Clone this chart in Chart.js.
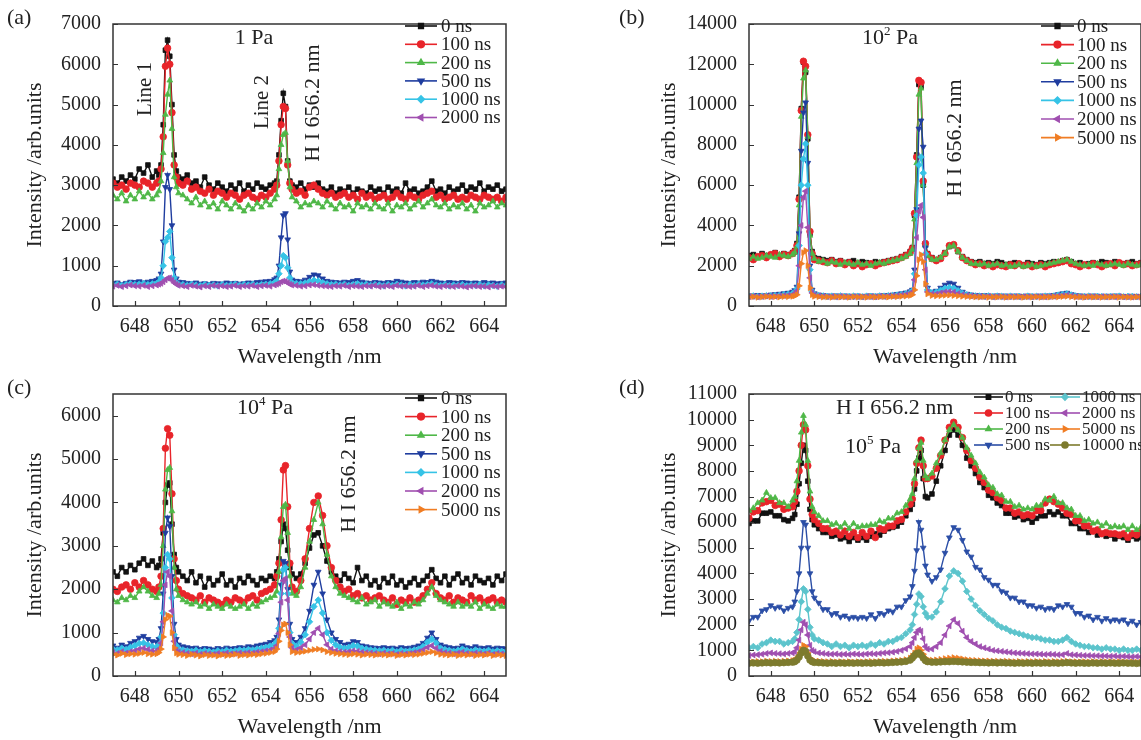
<!DOCTYPE html>
<html>
<head>
<meta charset="utf-8">
<title>Time-resolved emission spectra</title>
<script src="https://cdn.jsdelivr.net/npm/chart.js@4.4.1/dist/chart.umd.min.js"></script>
<style>
  html, body { margin: 0; padding: 0; background: #fff; overflow: hidden; width: 1141px; height: 740px; }
  body { position: relative; }
  canvas { position: absolute; }
</style>
</head>
<body>
<canvas id="panelA" width="570" height="370" style="left:0;top:0"></canvas>
<canvas id="panelB" width="580" height="370" style="left:570px;top:0"></canvas>
<canvas id="panelC" width="570" height="370" style="left:0;top:370px"></canvas>
<canvas id="panelD" width="580" height="370" style="left:570px;top:370px"></canvas>
<script>
// Sampled wavelengths (nm), finer around the emission lines
const wavelength = [
  647.0, 647.2, 647.4, 647.6, 647.8, 648.0, 648.2, 648.4, 648.6, 648.8, 649.0,
  649.1, 649.2, 649.3, 649.4, 649.5, 649.6, 649.7, 649.8, 649.9, 650.0,
  650.2, 650.4, 650.6, 650.8, 651.0, 651.2, 651.4, 651.6, 651.8, 652.0, 652.2, 652.4, 652.6, 652.8, 653.0, 653.2, 653.4, 653.6, 653.8, 654.0, 654.2, 654.4,
  654.5, 654.6, 654.7, 654.8, 654.9, 655.0, 655.1, 655.2,
  655.4, 655.6, 655.8, 656.0, 656.2, 656.4, 656.6, 656.8, 657.0, 657.2,
  657.4, 657.6, 657.8, 658.0, 658.2, 658.4, 658.6, 658.8, 659.0, 659.2,
  659.4, 659.6, 659.8, 660.0, 660.2, 660.4, 660.6, 660.8, 661.0, 661.2,
  661.4, 661.6, 661.8, 662.0, 662.2, 662.4, 662.6, 662.8, 663.0, 663.2,
  663.4, 663.6, 663.8, 664.0, 664.2, 664.4, 664.6, 664.8, 665.0
];

// Axis ticks
const wavelengthTicks = [648, 650, 652, 654, 656, 658, 660, 662, 664];
const intensityTicksA = [0, 1000, 2000, 3000, 4000, 5000, 6000, 7000];
const intensityTicksB = [0, 2000, 4000, 6000, 8000, 10000, 12000, 14000];
const intensityTicksC = [0, 1000, 2000, 3000, 4000, 5000, 6000];
const intensityTicksD = [0, 1000, 2000, 3000, 4000, 5000, 6000, 7000, 8000, 9000, 10000, 11000];

// ---------- (a) 1 Pa ----------
const delaysA = ['0 ns', '100 ns', '200 ns', '500 ns', '1000 ns', '2000 ns'];
const a_0ns = [
  3150, 3050, 3200, 3100, 3250, 3150, 3400, 3300, 3500, 3200, 3350,
  3250, 3500, 4500, 6350, 6600, 6200, 5000, 3750, 3350, 3200,
  3150, 3250, 3050, 3100, 2950, 3200, 3000, 2900, 3050, 2950, 2850, 3000, 2900, 3050, 2850, 3000, 2900, 3050, 2950, 2900, 3000, 3050,
  3100, 3750, 4600, 5280, 4950, 3600, 3100, 3000,
  2950, 3050, 2900, 3000, 2950, 3050, 2900, 2850, 2950, 2800,
  2900, 2850, 2950, 2800, 2900, 2850, 2800, 2950, 2850, 2900,
  2800, 2950, 2850, 2900, 2800, 3050, 2850, 2900, 2800, 2850,
  2950, 3100, 2850, 2900, 2800, 2950, 2850, 2900, 3000, 2850,
  2950, 2900, 3050, 2850, 2950, 2900, 3000, 2850, 2900
];
const a_100ns = [
  3050, 2950, 3000, 2900, 3050, 3000, 2950, 3100, 3050, 2950, 3050,
  3100, 3400, 4200, 5950, 6400, 6000, 4800, 3500, 3200, 3050,
  3000, 3100, 2900, 2950, 2850, 2800, 2900, 2750, 2850, 2800, 2700, 2800, 2750, 2650, 2750, 2800, 2700, 2650, 2750, 2700, 2800, 2900,
  3000, 3600, 4500, 4950, 4900, 3500, 3050, 2900,
  2800, 2850, 2750, 2950, 3000, 2900, 2800, 2750, 2800, 2700,
  2750, 2800, 2700, 2750, 2650, 2800, 2700, 2750, 2650, 2700,
  2750, 2650, 2700, 2800, 2700, 2650, 2750, 2700, 2650, 2750,
  2800, 2850, 2700, 2750, 2650, 2700, 2750, 2650, 2700, 2650,
  2750, 2700, 2650, 2750, 2700, 2650, 2700, 2600, 2700
];
const a_200ns = [
  2750, 2650, 2800, 2600, 2750, 2650, 2850, 2700, 2800, 2650, 2750,
  2850, 3100, 3800, 4750, 5250, 5600, 4400, 3200, 2950, 2800,
  2750, 2650, 2550, 2700, 2500, 2600, 2450, 2550, 2400, 2600, 2500, 2400, 2550, 2450, 2350, 2500, 2400, 2550, 2450, 2600, 2500, 2650,
  2750, 3400, 4000, 4250, 4300, 3600, 2950, 2700,
  2600, 2450, 2550, 2500, 2600, 2550, 2450, 2600, 2500, 2400,
  2550, 2450, 2500, 2350, 2550, 2450, 2500, 2400, 2550, 2450,
  2400, 2550, 2350, 2500, 2450, 2550, 2400, 2500, 2600, 2450,
  2550, 2650, 2500, 2450, 2550, 2400, 2500, 2450, 2550, 2400,
  2500, 2350, 2550, 2450, 2500, 2600, 2450, 2550, 2500
];
const a_500ns = [
  560, 580, 540, 570, 600, 590, 610, 580, 600, 620, 640,
  680, 800, 1600, 2950, 3250, 2900, 2000, 900, 680, 600,
  590, 570, 560, 580, 550, 560, 540, 570, 560, 550, 580, 560, 570, 550, 560, 580, 570, 590, 600, 610, 620, 660,
  700, 1000, 1700, 2250, 2300, 1650, 850, 650,
  620, 610, 650, 720, 780, 760, 680, 620, 600, 590,
  580, 600, 590, 620, 640, 600, 580, 570, 590, 580,
  570, 590, 580, 620, 600, 580, 570, 590, 580, 600,
  590, 620, 600, 580, 570, 590, 580, 570, 590, 580,
  570, 580, 560, 590, 570, 580, 560, 570, 580
];
const a_1000ns = [
  520, 540, 510, 530, 550, 530, 540, 560, 530, 550, 560,
  600, 700, 1000, 1600, 1700, 1850, 1200, 700, 580, 540,
  530, 510, 540, 520, 500, 530, 510, 520, 500, 530, 510, 520, 540, 510, 530, 520, 540, 510, 530, 540, 550, 580,
  620, 800, 1000, 1250, 1200, 950, 700, 580,
  560, 550, 570, 600, 640, 620, 580, 550, 530, 540,
  520, 540, 510, 530, 550, 520, 540, 510, 530, 520,
  500, 530, 510, 540, 520, 500, 530, 510, 540, 520,
  530, 550, 520, 510, 530, 500, 520, 510, 530, 500,
  520, 510, 530, 500, 520, 510, 490, 520, 500
];
const a_2000ns = [
  490, 510, 480, 500, 520, 500, 490, 510, 480, 500, 520,
  540, 560, 600, 650, 690, 700, 640, 580, 540, 510,
  500, 480, 510, 490, 470, 500, 480, 510, 490, 500, 480, 490, 510, 480, 500, 490, 510, 480, 500, 510, 490, 520,
  540, 560, 600, 620, 610, 580, 540, 520,
  510, 490, 500, 520, 530, 510, 500, 490, 480, 500,
  490, 510, 480, 500, 490, 480, 500, 490, 510, 480,
  490, 500, 480, 510, 490, 500, 480, 490, 510, 480,
  500, 510, 490, 480, 500, 490, 480, 500, 490, 470,
  490, 500, 480, 490, 470, 500, 480, 490, 480
];

// ---------- (b) 10^2 Pa ----------
const delaysB = ['0 ns', '100 ns', '200 ns', '500 ns', '1000 ns', '2000 ns', '5000 ns'];
const b_0ns = [
  2500, 2550, 2450, 2600, 2500, 2550, 2650, 2500, 2600, 2550, 2650,
  2750, 3100, 5400, 9800, 12100, 11600, 8300, 3600, 2700, 2400,
  2350, 2300, 2250, 2300, 2200, 2250, 2150, 2200, 2250, 2100, 2200, 2150, 2100, 2200, 2150, 2200, 2250, 2300, 2350, 2450, 2550, 2700,
  2900, 4500, 7500, 11000, 10900, 6000, 3100, 2600,
  2400, 2300, 2400, 2650, 2950, 3000, 2700, 2450, 2300, 2200,
  2150, 2200, 2100, 2150, 2100, 2200, 2150, 2050, 2100, 2150,
  2100, 2050, 2150, 2100, 2050, 2150, 2100, 2150, 2200, 2150,
  2250, 2300, 2200, 2100, 2150, 2050, 2100, 2150, 2100, 2200,
  2150, 2100, 2200, 2150, 2100, 2150, 2200, 2100, 2150
];
const b_100ns = [
  2400, 2300, 2450, 2500, 2400, 2550, 2600, 2450, 2550, 2500, 2600,
  2700, 3000, 5300, 9700, 12150, 11900, 8500, 3700, 2600, 2300,
  2250, 2200, 2150, 2250, 2100, 2200, 2050, 2150, 2000, 2100, 1950, 2050, 2100, 2000, 2100, 2150, 2200, 2250, 2300, 2400, 2500, 2650,
  2850, 4600, 7400, 11200, 11100, 6200, 3100, 2550,
  2350, 2250, 2350, 2600, 3000, 3050, 2750, 2400, 2250, 2150,
  2050, 2100, 2000, 2050, 1950, 2050, 2000, 1950, 2050, 2000,
  2100, 2000, 2050, 1950, 2000, 2050, 1950, 2050, 2100, 2150,
  2200, 2250, 2100, 2050, 1950, 2050, 2000, 2100, 2050, 1950,
  2050, 2100, 2000, 2150, 2050, 2100, 2000, 2050, 2100
];
const b_200ns = [
  2350, 2450, 2350, 2400, 2500, 2450, 2400, 2550, 2500, 2450, 2550,
  2650, 2950, 5000, 9400, 11300, 11700, 8400, 3500, 2600, 2350,
  2200, 2250, 2100, 2200, 2150, 2050, 2150, 2100, 2050, 2150, 2050, 2100, 2000, 2100, 2150, 2100, 2200, 2250, 2300, 2350, 2450, 2600,
  2800, 4300, 7100, 10500, 10800, 6000, 3000, 2500,
  2300, 2300, 2400, 2600, 2950, 3000, 2700, 2400, 2250, 2100,
  2100, 2050, 2100, 2000, 2050, 2100, 2000, 2050, 1950, 2000,
  2050, 1950, 2000, 2050, 1950, 2000, 2050, 2100, 2150, 2200,
  2250, 2300, 2200, 2100, 2050, 2000, 2050, 2000, 2100, 2050,
  2000, 2050, 2100, 2050, 2000, 2100, 2050, 2000, 2050
];
const b_500ns = [
  520, 500, 540, 510, 530, 560, 580, 600, 620, 650, 700,
  780, 950, 3600, 7700, 9600, 10100, 7100, 2000, 800, 620,
  560, 530, 510, 500, 520, 490, 510, 500, 480, 510, 490, 500, 520, 500, 510, 530, 540, 560, 590, 620, 660, 720,
  800, 1800, 4800, 8800, 9200, 7900, 2900, 900,
  700, 750, 900, 1050, 1150, 1100, 900, 700, 600, 560,
  540, 520, 530, 510, 500, 520, 500, 510, 490, 510,
  500, 490, 510, 500, 490, 510, 500, 520, 540, 580,
  620, 650, 580, 530, 510, 500, 490, 510, 500, 490,
  500, 490, 510, 500, 490, 480, 500, 490, 480
];
const b_1000ns = [
  480, 500, 470, 490, 510, 500, 520, 530, 560, 580, 620,
  680, 850, 3000, 6000, 7300, 8050, 6000, 1800, 720, 580,
  520, 500, 480, 490, 470, 500, 480, 470, 490, 480, 460, 490, 480, 470, 500, 490, 510, 520, 540, 570, 600, 660,
  750, 1600, 4500, 7000, 7400, 6600, 2600, 800,
  650, 680, 780, 880, 920, 880, 760, 620, 560, 520,
  500, 490, 480, 500, 470, 490, 480, 460, 490, 470,
  480, 460, 490, 470, 480, 460, 490, 480, 500, 540,
  570, 600, 540, 500, 480, 470, 490, 460, 480, 470,
  460, 480, 470, 490, 460, 480, 470, 460, 480
];
const b_2000ns = [
  460, 480, 450, 470, 490, 470, 480, 500, 510, 530, 560,
  620, 750, 2000, 4000, 5400, 5700, 3900, 1400, 650, 540,
  500, 480, 460, 470, 450, 480, 460, 450, 470, 460, 450, 470, 460, 450, 480, 470, 490, 500, 510, 540, 570, 620,
  700, 1300, 3400, 4700, 5000, 4400, 1800, 700,
  600, 600, 650, 700, 720, 690, 620, 560, 520, 500,
  480, 470, 460, 480, 450, 470, 460, 450, 470, 460,
  450, 470, 460, 450, 470, 460, 450, 470, 480, 500,
  520, 540, 500, 470, 460, 450, 470, 460, 450, 470,
  450, 460, 450, 470, 450, 460, 440, 460, 450
];
const b_5000ns = [
  440, 460, 430, 450, 470, 450, 460, 440, 470, 460, 480,
  500, 560, 1000, 2100, 2650, 2750, 2000, 900, 560, 480,
  460, 440, 450, 430, 460, 440, 450, 430, 460, 440, 450, 430, 460, 440, 450, 460, 440, 470, 460, 480, 490, 520,
  560, 800, 1500, 2300, 2550, 2200, 1100, 600,
  520, 500, 510, 530, 540, 520, 500, 480, 470, 460,
  450, 440, 460, 430, 450, 440, 460, 430, 450, 440,
  460, 430, 450, 440, 460, 430, 450, 440, 460, 450,
  470, 480, 460, 440, 450, 430, 460, 440, 450, 430,
  450, 440, 460, 430, 450, 440, 430, 450, 440
];

// ---------- (c) 10^4 Pa ----------
const delaysC = ['0 ns', '100 ns', '200 ns', '500 ns', '1000 ns', '2000 ns', '5000 ns'];
const c_0ns = [
  2400, 2300, 2500, 2400, 2550, 2450, 2600, 2700, 2550, 2650, 2500,
  2550, 2700, 3300, 4000, 4400, 4450, 3500, 2800, 2500, 2400,
  2300, 2200, 2400, 2150, 2300, 2050, 2250, 2100, 2200, 2350, 2100, 2200, 2050, 2250, 2150, 2300, 2200, 2100, 2250, 2200, 2300, 2250,
  2400, 2700, 3100, 3500, 3400, 2900, 2500, 2350,
  2250, 2350, 2600, 2950, 3250, 3300, 3000, 2650, 2400, 2300,
  2200, 2350, 2250, 2150, 2500, 2200, 2300, 2100, 2200, 2050,
  2250, 2150, 2300, 2100, 2200, 2050, 2150, 2250, 2100, 2200,
  2300, 2450, 2250, 2150, 2300, 2100, 2250, 2350, 2150, 2250,
  2100, 2300, 2200, 2150, 2250, 2100, 2300, 2200, 2350
];
const c_100ns = [
  2000, 1950, 2050, 2100, 2000, 2150, 2050, 2200, 2100, 2000, 1950,
  2050, 2300, 3400, 5250, 5700, 5550, 4200, 2700, 2200, 2000,
  1900, 1850, 1800, 1750, 1850, 1700, 1800, 1750, 1700, 1650, 1750, 1700, 1800, 1750, 1700, 1800, 1850, 1750, 1900, 1950, 2000, 2100,
  2300, 2600, 3600, 4750, 4850, 3900, 2600, 2050,
  1950, 2200, 2700, 3400, 4000, 4150, 3700, 3000, 2500, 2200,
  2050, 1950, 2000, 1850, 1900, 1800, 1850, 1750, 1800, 1850,
  1750, 1700, 1800, 1650, 1750, 1700, 1800, 1700, 1750, 1850,
  2000, 2150, 1900, 1800, 1750, 1850, 1700, 1800, 1750, 1700,
  1850, 1750, 1800, 1700, 1750, 1800, 1700, 1750, 1700
];
const c_200ns = [
  1750, 1700, 1800, 1750, 1850, 1800, 1950, 2050, 1950, 1850, 1800,
  1900, 2100, 3000, 4300, 4750, 4800, 3800, 2500, 2000, 1850,
  1750, 1700, 1650, 1700, 1600, 1650, 1550, 1650, 1600, 1550, 1650, 1600, 1550, 1600, 1650, 1550, 1650, 1600, 1700, 1750, 1800, 1850,
  1950, 2400, 3200, 3900, 3950, 3300, 2300, 1900,
  1850, 2050, 2500, 3100, 3600, 4000, 3500, 2800, 2300, 2050,
  1900, 1850, 1800, 1750, 1700, 1800, 1650, 1700, 1750, 1600,
  1700, 1650, 1600, 1700, 1550, 1650, 1600, 1700, 1650, 1750,
  1900, 2050, 1850, 1750, 1700, 1650, 1600, 1700, 1600, 1650,
  1600, 1700, 1550, 1650, 1600, 1550, 1650, 1600, 1600
];
const c_500ns = [
  700, 650, 720, 680, 760, 800, 880, 920, 850, 800, 780,
  850, 1100, 1900, 3300, 3650, 3450, 2300, 1200, 850, 720,
  680, 660, 640, 650, 620, 640, 630, 610, 640, 620, 650, 630, 640, 660, 650, 680, 670, 700, 720, 740, 780, 820,
  900, 1300, 2100, 2650, 2600, 2000, 1200, 850,
  780, 900, 1100, 1500, 2100, 2400, 1900, 1300, 1000, 850,
  780, 720, 740, 800, 780, 700, 680, 660, 650, 640,
  660, 640, 650, 630, 660, 640, 650, 670, 700, 760,
  880, 1000, 850, 720, 680, 660, 640, 650, 700, 660,
  640, 680, 650, 640, 660, 630, 650, 640, 630
];
const c_1000ns = [
  620, 600, 640, 610, 660, 700, 750, 760, 720, 680, 660,
  720, 900, 1450, 2500, 2800, 2700, 1800, 950, 700, 620,
  600, 580, 570, 590, 560, 580, 570, 550, 580, 560, 590, 570, 580, 600, 590, 610, 600, 620, 640, 660, 690, 730,
  800, 1100, 1900, 2450, 2500, 1900, 1000, 750,
  690, 780, 950, 1250, 1600, 1750, 1450, 1000, 820, 720,
  660, 640, 660, 700, 690, 640, 620, 600, 590, 580,
  590, 570, 590, 560, 590, 570, 580, 600, 620, 680,
  780, 850, 760, 640, 610, 590, 570, 590, 620, 590,
  570, 600, 580, 570, 590, 560, 580, 570, 560
];
const c_2000ns = [
  540, 520, 560, 530, 560, 580, 620, 640, 610, 580, 570,
  620, 760, 1250, 2100, 2400, 2300, 1500, 800, 600, 550,
  540, 520, 510, 530, 500, 520, 510, 500, 520, 510, 530, 510, 520, 530, 520, 540, 530, 550, 560, 580, 600, 640,
  700, 980, 1700, 2200, 2250, 1750, 900, 650,
  600, 650, 720, 850, 1000, 1100, 950, 720, 620, 580,
  560, 550, 560, 580, 570, 550, 540, 530, 520, 510,
  530, 510, 520, 500, 520, 510, 520, 540, 560, 600,
  660, 700, 640, 570, 540, 530, 510, 530, 550, 520,
  510, 530, 520, 510, 530, 500, 520, 510, 500
];
const c_5000ns = [
  500, 480, 520, 490, 510, 500, 520, 540, 510, 500, 510,
  540, 620, 900, 1300, 1400, 1380, 1000, 650, 530, 500,
  490, 470, 500, 480, 460, 490, 470, 480, 460, 490, 470, 480, 500, 470, 490, 480, 500, 490, 510, 520, 540, 560,
  620, 800, 1050, 1180, 1200, 1000, 720, 560,
  540, 550, 570, 590, 610, 620, 600, 560, 540, 520,
  510, 500, 490, 510, 500, 480, 500, 490, 480, 500,
  490, 480, 500, 470, 490, 480, 500, 490, 500, 520,
  540, 560, 530, 500, 490, 480, 500, 470, 490, 480,
  500, 470, 490, 480, 500, 470, 490, 480, 470
];

// ---------- (d) 10^5 Pa ----------
const delaysD = ['0 ns', '100 ns', '200 ns', '500 ns', '1000 ns', '2000 ns', '5000 ns', '10000 ns'];
const d_0ns = [
  5950, 6050, 6050, 6350, 6350, 6400, 6250, 6250, 6100, 6050, 6150,
  6300, 6700, 7500, 8300, 9000, 8800, 7600, 6500, 6100, 5900,
  5750, 5600, 5600, 5450, 5500, 5350, 5400, 5250, 5400, 5300, 5400, 5300, 5450, 5550, 5500, 5650, 5750, 5800, 5850, 6000, 6250, 6500,
  6700, 7300, 8000, 8500, 8800, 7700, 7000, 6950,
  7100, 7600, 8200, 8800, 9400, 9600, 9400, 9000, 8500, 8200,
  7900, 7550, 7350, 7050, 6950, 6750, 6650, 6350, 6350, 6200,
  6250, 6100, 6150, 6000, 6150, 6250, 6250, 6400, 6300, 6400,
  6250, 6250, 5950, 5950, 5750, 5750, 5600, 5650, 5500, 5550,
  5450, 5500, 5350, 5450, 5400, 5300, 5450, 5350, 5400
];
const d_100ns = [
  6150, 6400, 6450, 6750, 6800, 6850, 6650, 6700, 6500, 6550, 6600,
  6800, 7200, 8000, 9000, 9800, 9600, 8200, 6900, 6300, 6100,
  5950, 5750, 5750, 5600, 5650, 5500, 5650, 5450, 5600, 5400, 5600, 5450, 5650, 5400, 5750, 5700, 5850, 5850, 6050, 6100, 6400, 6700,
  6900, 7500, 8300, 8900, 9200, 8200, 7700, 7700,
  7800, 8100, 8600, 9200, 9700, 9900, 9700, 9300, 8800, 8400,
  8100, 7750, 7550, 7250, 7150, 6950, 6850, 6550, 6550, 6350,
  6400, 6250, 6300, 6250, 6450, 6450, 6750, 6900, 6800, 6700,
  6550, 6350, 6300, 6050, 6050, 5850, 5850, 5650, 5700, 5550,
  5600, 5550, 5550, 5500, 5550, 5400, 5550, 5500, 5600
];
const d_200ns = [
  6450, 6550, 6750, 6850, 7150, 6950, 6950, 6750, 6750, 6600, 6850,
  7000, 7600, 8400, 9500, 10150, 9800, 8400, 7200, 6600, 6400,
  6250, 6050, 6050, 5900, 5950, 5800, 5950, 5750, 5950, 5800, 5850, 5850, 5900, 5900, 6050, 6000, 6150, 6150, 6350, 6400, 6650, 6900,
  7100, 7700, 8400, 8900, 9100, 8400, 7800, 7700,
  7900, 8300, 8700, 9200, 9600, 9800, 9600, 9300, 8900, 8600,
  8300, 7950, 7750, 7450, 7350, 7100, 7050, 6800, 6800, 6600,
  6650, 6500, 6550, 6500, 6650, 6650, 6900, 6850, 7000, 6750,
  6750, 6550, 6500, 6250, 6250, 6050, 6100, 5950, 6000, 5850,
  5950, 5800, 5850, 5800, 5850, 5700, 5850, 5700, 5800
];
const d_500ns = [
  2150, 2300, 2300, 2550, 2600, 2750, 2650, 2700, 2550, 2650, 2700,
  2900, 3300, 4000, 5000, 6000, 5900, 5000, 4000, 3300, 3050,
  2850, 2600, 2600, 2400, 2450, 2300, 2350, 2250, 2300, 2250, 2300, 2250, 2400, 2250, 2450, 2400, 2550, 2500, 2700, 2700, 2950, 3100,
  3500, 4100, 4900, 6000, 5700, 5000, 4300, 3950,
  3700, 3850, 4150, 4800, 5400, 5800, 5700, 5300, 4850, 4650,
  4250, 4150, 3850, 3750, 3550, 3550, 3300, 3250, 3050, 3050,
  2900, 2900, 2750, 2750, 2650, 2700, 2600, 2650, 2600, 2750,
  2700, 2800, 2700, 2450, 2450, 2300, 2350, 2200, 2300, 2150,
  2250, 2150, 2200, 2150, 2200, 2050, 2150, 2000, 2100
];
const d_1000ns = [
  1100, 1150, 1100, 1250, 1300, 1400, 1350, 1350, 1250, 1300, 1350,
  1450, 1700, 2200, 2900, 3400, 3300, 2600, 1900, 1600, 1450,
  1400, 1300, 1250, 1150, 1250, 1150, 1200, 1100, 1200, 1150, 1200, 1150, 1250, 1200, 1300, 1250, 1350, 1350, 1450, 1500, 1650, 1800,
  2000, 2400, 2800, 3200, 3100, 2700, 2450, 2300,
  2300, 2500, 2900, 3400, 3900, 4100, 4000, 3700, 3300, 3000,
  2750, 2550, 2400, 2250, 2150, 2000, 1900, 1850, 1750, 1700,
  1650, 1600, 1550, 1500, 1500, 1450, 1400, 1400, 1350, 1350,
  1400, 1500, 1350, 1250, 1200, 1150, 1150, 1100, 1100, 1050,
  1100, 1050, 1050, 1000, 1050, 1000, 1000, 1050, 1000
];
const d_2000ns = [
  800, 820, 830, 850, 880, 900, 880, 870, 860, 880, 900,
  950, 1100, 1400, 1800, 2100, 2000, 1600, 1200, 1000, 950,
  900, 880, 860, 850, 860, 840, 850, 840, 860, 850, 840, 860, 870, 860, 880, 900, 910, 930, 960, 1000, 1060, 1150,
  1300, 1500, 1700, 1800, 1750, 1450, 1150, 1050,
  1050, 1150, 1300, 1600, 1950, 2200, 2050, 1750, 1500, 1350,
  1250, 1150, 1100, 1050, 1000, 980, 960, 940, 920, 900,
  890, 880, 870, 860, 860, 850, 840, 850, 840, 830,
  830, 880, 830, 820, 810, 800, 800, 790, 790, 780,
  780, 770, 780, 760, 770, 760, 750, 760, 750
];
const d_5000ns = [
  560, 550, 570, 560, 580, 570, 580, 570, 580, 590, 600,
  620, 680, 820, 1050, 1200, 1150, 900, 700, 620, 600,
  580, 570, 560, 570, 550, 560, 550, 560, 550, 560, 550, 560, 570, 560, 570, 580, 570, 590, 600, 610, 640, 700,
  780, 900, 1050, 1100, 1000, 850, 700, 640,
  620, 630, 650, 680, 700, 720, 700, 670, 640, 620,
  610, 600, 590, 590, 580, 580, 570, 580, 570, 560,
  570, 560, 570, 560, 570, 560, 570, 560, 570, 560,
  570, 580, 560, 560, 550, 560, 550, 560, 550, 560,
  550, 560, 550, 560, 550, 540, 550, 540, 550
];
const d_10000ns = [
  500, 510, 500, 510, 520, 510, 520, 510, 520, 530, 540,
  560, 620, 740, 900, 1000, 960, 780, 620, 560, 530,
  520, 510, 500, 510, 500, 510, 500, 510, 500, 510, 500, 510, 500, 510, 520, 510, 520, 530, 540, 550, 570, 620,
  700, 800, 880, 900, 820, 700, 600, 560,
  540, 540, 550, 560, 560, 570, 560, 550, 540, 530,
  530, 520, 520, 510, 520, 510, 520, 510, 510, 500,
  510, 500, 510, 500, 510, 500, 510, 500, 510, 500,
  510, 520, 510, 500, 510, 500, 500, 510, 500, 510,
  500, 510, 500, 500, 510, 500, 500, 490, 500
];

// Marker and colour per gate delay
const SERIES_STYLE = {
  '0 ns':     { color: '#111111', shape: 'rect',     rot: 0 },
  '100 ns':   { color: '#e8242a', shape: 'circle',   rot: 0 },
  '200 ns':   { color: '#4fb848', shape: 'triangle', rot: 0 },
  '500 ns':   { color: '#1f3d9f', shape: 'triangle', rot: 180 },
  '1000 ns':  { color: '#36c3e6', shape: 'rectRot',  rot: 0 },
  '2000 ns':  { color: '#a04fb0', shape: 'triangle', rot: -90 },
  '5000 ns':  { color: '#f07d24', shape: 'triangle', rot: 90 },
  '10000 ns': { color: '#7d7b2e', shape: 'circle',   rot: 0 }
};

const SERIF = '"Liberation Serif", "Times New Roman", serif';
const INK = '#222222';

function markerOf(style, radius) {
  return { pointStyle: style.shape, rotation: style.rot, radius: radius, borderWidth: 0.8 };
}

// Frame, inward ticks, panel notes and the legend box
const panelDecor = {
  id: 'panelDecor',
  afterDraw(chart, args, opts) {
    const { ctx, chartArea: ca, scales } = chart;
    ctx.save();
    ctx.strokeStyle = '#333';
    ctx.lineWidth = 1.2;
    ctx.beginPath();
    scales.x.ticks.forEach(t => {
      const px = Math.round(scales.x.getPixelForValue(t.value)) + 0.5;
      ctx.moveTo(px, ca.bottom); ctx.lineTo(px, ca.bottom - 5);
    });
    scales.y.ticks.forEach(t => {
      const py = Math.round(scales.y.getPixelForValue(t.value)) + 0.5;
      ctx.moveTo(ca.left, py); ctx.lineTo(ca.left + 5, py);
    });
    ctx.stroke();
    ctx.lineWidth = 1.5;
    ctx.strokeRect(ca.left, ca.top, ca.right - ca.left, ca.bottom - ca.top);

    // text notes
    ctx.fillStyle = INK;
    (opts.notes || []).forEach(n => {
      ctx.save();
      ctx.translate(n.x, n.y);
      if (n.rotate) ctx.rotate(n.rotate * Math.PI / 180);
      ctx.textBaseline = 'middle';
      if (n.parts) {
        ctx.textAlign = 'left';
        let cx = 0;
        n.parts.forEach(p => {
          const size = p.sup ? Math.round(n.size * 0.6) : n.size;
          ctx.font = size + 'px ' + SERIF;
          ctx.fillText(p.t, cx, p.sup ? -n.size * 0.3 : 0);
          cx += ctx.measureText(p.t).width;
        });
      } else {
        ctx.textAlign = n.align || 'center';
        ctx.font = n.size + 'px ' + SERIF;
        ctx.fillText(n.text, 0, 0);
      }
      ctx.restore();
    });

    // legend
    const lg = opts.legend;
    if (lg) {
      const sets = chart.data.datasets;
      lg.cols.forEach(col => {
        col.items.forEach((idx, row) => {
          const ds = sets[idx];
          const st = ds._style;
          const y = lg.y0 + row * lg.dy;
          ctx.strokeStyle = st.color;
          ctx.fillStyle = st.color;
          ctx.lineWidth = 1.6;
          ctx.beginPath();
          ctx.moveTo(col.x1, y); ctx.lineTo(col.x2, y);
          ctx.stroke();
          const mx = (col.x1 + col.x2) / 2;
          if (Chart.helpers && Chart.helpers.drawPoint) {
            Chart.helpers.drawPoint(ctx, markerOf(st, lg.radius), mx, y);
          } else {
            ctx.beginPath(); ctx.arc(mx, y, lg.radius, 0, Math.PI * 2); ctx.fill();
          }
          ctx.fillStyle = INK;
          ctx.font = lg.size + 'px ' + SERIF;
          ctx.textAlign = 'left';
          ctx.textBaseline = 'middle';
          ctx.fillText(ds.label, col.tx, y + 1);
        });
      });
    }
    ctx.restore();
  }
};

function buildPanel(canvasId, cfg) {
  const datasets = cfg.labels.map((label, i) => {
    const st = Object.assign({}, SERIES_STYLE[label], (cfg.colorOverride || {})[label] || {});
    return {
      label: label,
      _style: st,
      data: cfg.values[i].map((v, k) => ({ x: wavelength[k], y: v })),
      borderColor: st.color,
      backgroundColor: st.color,
      borderWidth: 1.4,
      pointStyle: st.shape,
      pointRotation: st.rot,
      pointRadius: cfg.pointRadius || 3.3,
      pointBorderWidth: 0.8,
      pointHoverRadius: 0,
      tension: 0,
      order: cfg.labels.length - i
    };
  });

  return new Chart(document.getElementById(canvasId), {
    type: 'line',
    data: { datasets },
    plugins: [panelDecor],
    options: {
      responsive: false,
      animation: false,
      events: [],
      layout: { padding: { left: 0, top: 15, right: cfg.padRight, bottom: 0 } },
      plugins: {
        legend: { display: false },
        tooltip: { enabled: false },
        panelDecor: { notes: cfg.notes, legend: cfg.legend }
      },
      scales: {
        x: {
          type: 'linear', min: 647, max: 665,
          afterBuildTicks: s => { s.ticks = wavelengthTicks.map(v => ({ value: v })); },
          afterFit: s => { s.height = 64; },
          grid: { display: false, drawTicks: false },
          border: { display: false },
          ticks: { font: { family: SERIF, size: 20 }, color: INK, padding: 9, maxRotation: 0, autoSkip: false,
                   callback: v => String(v) },
          title: { display: true, text: 'Wavelength /nm', color: INK,
                   font: { family: SERIF, size: 22 }, padding: { top: 0, bottom: 0 } }
        },
        y: {
          type: 'linear', min: 0, max: cfg.yMax,
          afterBuildTicks: s => { s.ticks = cfg.yTicks.map(v => ({ value: v })); },
          afterFit: s => { s.width = cfg.axisWidth; },
          grid: { display: false, drawTicks: false },
          border: { display: false },
          ticks: { font: { family: SERIF, size: 20 }, color: INK, padding: 12, autoSkip: false,
                   callback: v => String(v) },
          title: { display: true, text: 'Intensity /arb.units', color: INK,
                   font: { family: SERIF, size: 22 }, padding: { top: cfg.yTitlePad, bottom: 0 } }
        }
      }
    }
  });
}

const rotatedLine = (text, x, y, size) => ({ text, x, y, size, rotate: -90 });

buildPanel('panelA', {
  labels: delaysA,
  values: [a_0ns, a_100ns, a_200ns, a_500ns, a_1000ns, a_2000ns],
  yMax: 7000, yTicks: intensityTicksA,
  axisWidth: 113, padRight: 64, yTitlePad: 22,
  notes: [
    { text: '(a)', x: 7, y: 18, size: 22, align: 'left' },
    { text: '1 Pa', x: 254, y: 38, size: 22 },
    rotatedLine('Line 1', 145, 89, 21),
    rotatedLine('Line 2', 262, 102, 21),
    rotatedLine('H I 656.2 nm', 313, 103, 22)
  ],
  legend: { y0: 26, dy: 18.3, size: 19, radius: 3.3,
            cols: [{ x1: 405, x2: 437, tx: 441, items: [0, 1, 2, 3, 4, 5] }] }
});

buildPanel('panelB', {
  labels: delaysB,
  values: [b_0ns, b_100ns, b_200ns, b_500ns, b_1000ns, b_2000ns, b_5000ns],
  yMax: 14000, yTicks: intensityTicksB,
  axisWidth: 179, padRight: 9, yTitlePad: 86,
  notes: [
    { text: '(b)', x: 49, y: 18, size: 22, align: 'left' },
    { parts: [{ t: '10' }, { t: '2', sup: true }, { t: ' Pa' }], x: 292, y: 38, size: 22 },
    rotatedLine('H I 656.2 nm', 385, 138, 22)
  ],
  legend: { y0: 26, dy: 18.6, size: 19, radius: 3.3,
            cols: [{ x1: 471, x2: 504, tx: 507, items: [0, 1, 2, 3, 4, 5, 6] }] }
});

buildPanel('panelC', {
  labels: delaysC,
  values: [c_0ns, c_100ns, c_200ns, c_500ns, c_1000ns, c_2000ns, c_5000ns],
  yMax: 6500, yTicks: intensityTicksC,
  axisWidth: 113, padRight: 64, yTitlePad: 22,
  notes: [
    { text: '(c)', x: 7, y: 18, size: 22, align: 'left' },
    { parts: [{ t: '10' }, { t: '4', sup: true }, { t: ' Pa' }], x: 237, y: 38, size: 22 },
    rotatedLine('H I 656.2 nm', 349, 104, 22)
  ],
  legend: { y0: 28, dy: 18.6, size: 19, radius: 3.3,
            cols: [{ x1: 405, x2: 437, tx: 441, items: [0, 1, 2, 3, 4, 5, 6] }] }
});

buildPanel('panelD', {
  labels: delaysD,
  values: [d_0ns, d_100ns, d_200ns, d_500ns, d_1000ns, d_2000ns, d_5000ns, d_10000ns],
  yMax: 11000, yTicks: intensityTicksD,
  axisWidth: 179, padRight: 9, yTitlePad: 86,
  colorOverride: { '500 ns': { color: '#2b4ea6' }, '1000 ns': { color: '#5cc4cc' } },
  notes: [
    { text: '(d)', x: 49, y: 18, size: 22, align: 'left' },
    { text: 'H I 656.2 nm', x: 266, y: 38, size: 22, align: 'left' },
    { parts: [{ t: '10' }, { t: '5', sup: true }, { t: ' Pa' }], x: 275, y: 77, size: 22 }
  ],
  legend: { y0: 27, dy: 16, size: 17, radius: 3,
            cols: [{ x1: 404, x2: 433, tx: 435, items: [0, 1, 2, 3] },
                   { x1: 480, x2: 510, tx: 512, items: [4, 5, 6, 7] }] }
});
</script>
</body>
</html>
